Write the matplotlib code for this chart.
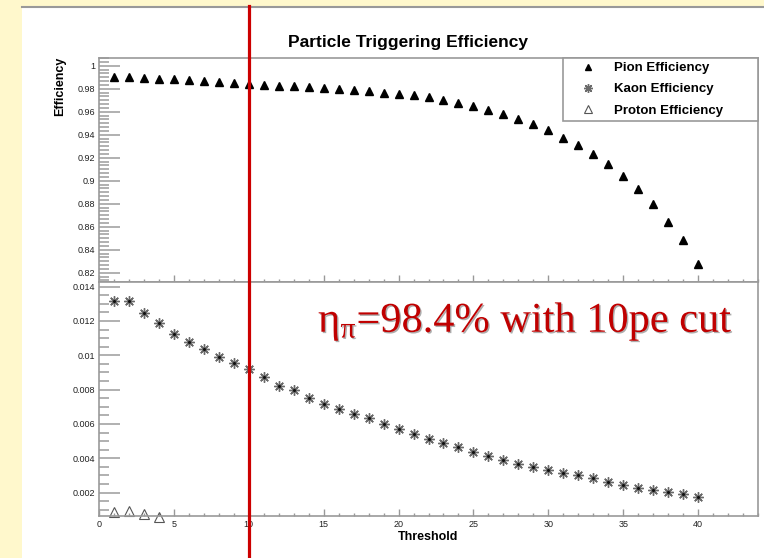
import matplotlib
matplotlib.use("Agg")
import matplotlib.pyplot as plt
import matplotlib.patheffects as pe
import matplotlib.transforms as mtransforms
from matplotlib.lines import Line2D
from matplotlib.patches import Rectangle
from matplotlib.ticker import MultipleLocator, AutoMinorLocator, FuncFormatter

plt.rcParams["font.family"] = ["Liberation Sans", "DejaVu Sans"]
plt.rcParams["mathtext.fontset"] = "custom"
plt.rcParams["mathtext.rm"] = "Liberation Serif"
plt.rcParams["mathtext.it"] = "Liberation Serif"
plt.rcParams["mathtext.default"] = "rm"

# --- data ---
threshold = list(range(1, 41))
pion_eff = [0.9905, 0.9902, 0.9893, 0.9887, 0.9881, 0.9873, 0.9864, 0.9858, 0.9847, 0.9841,
            0.9832, 0.9823, 0.9821, 0.9812, 0.9803, 0.9795, 0.9789, 0.9776, 0.9765, 0.9754,
            0.9745, 0.9725, 0.9702, 0.9678, 0.9652, 0.9615, 0.9577, 0.9539, 0.9490, 0.9441,
            0.9374, 0.9310, 0.9232, 0.9145, 0.9041, 0.8925, 0.8797, 0.8643, 0.8484, 0.8276]
kaon_eff = [0.01318, 0.01318, 0.01244, 0.01186, 0.01122, 0.01075, 0.01034, 0.00991, 0.00958, 0.00918,
            0.00873, 0.00820, 0.00797, 0.00754, 0.00719, 0.00688, 0.00661, 0.00632, 0.00599, 0.00573,
            0.00544, 0.00513, 0.00490, 0.00468, 0.00437, 0.00412, 0.00389, 0.00369, 0.00350, 0.00334,
            0.00315, 0.00303, 0.00288, 0.00262, 0.00243, 0.00229, 0.00214, 0.00204, 0.00194, 0.00174]
proton_threshold = [1, 2, 3, 4]
proton_eff = [0.00087, 0.00092, 0.00078, 0.00060]
cut_threshold = 10

W, H = 764, 558
fx = lambda px: px / W
fy = lambda py: 1 - py / H

fig = plt.figure(figsize=(W / 100, H / 100), dpi=100, facecolor="#FFF8CC")
# white slide panel + grey rule on top
fig.add_artist(Rectangle((fx(22), 0), 1 - fx(22), fy(8), transform=fig.transFigure,
                         facecolor="white", edgecolor="none", zorder=-1))
fig.add_artist(Line2D([fx(22), 1], [fy(7), fy(7)], color="#999999", lw=1.5, zorder=-1))

ax_top = fig.add_axes([fx(99), fy(282), fx(758) - fx(99), fy(58) - fy(282)])
ax_bot = fig.add_axes([fx(99), fy(516), fx(758) - fx(99), fy(282) - fy(516)], sharex=ax_top)

ax_top.plot(threshold, pion_eff, linestyle="none", marker="^", color="black",
            markersize=5.2, label="Pion Efficiency")
ax_bot.plot(threshold, kaon_eff, linestyle="none", marker=(8, 2, 0), color="#6a6a6a",
            markersize=7.5, markeredgewidth=1.0, label="Kaon Efficiency")
ax_bot.plot(threshold, kaon_eff, linestyle="none", marker="o", color="#111111",
            markersize=2.2, markeredgewidth=0)
ax_bot.plot(proton_threshold, proton_eff, linestyle="none", marker="^", markerfacecolor="none",
            markeredgecolor="#555555", markersize=6.5, markeredgewidth=0.8,
            clip_on=False, label="Proton Efficiency")

ax_top.set_xlim(0, 44)
ax_top.set_ylim(0.8119, 1.0067)
ax_bot.set_ylim(0.00064, 0.01427)

fmt = FuncFormatter(lambda v, _: f"{v:g}")
ax_top.yaxis.set_major_locator(MultipleLocator(0.02))
ax_top.yaxis.set_minor_locator(AutoMinorLocator(6))
ax_bot.yaxis.set_major_locator(MultipleLocator(0.002))
ax_bot.yaxis.set_minor_locator(AutoMinorLocator(4))
ax_bot.xaxis.set_major_locator(MultipleLocator(5))
ax_bot.xaxis.set_minor_locator(MultipleLocator(1))

for ax in (ax_top, ax_bot):
    ax.yaxis.set_major_formatter(fmt)
    ax.tick_params(axis="y", which="major", direction="in", length=15, width=1.4,
                   color="#b0b0b0", labelsize=6.5, labelcolor="#222222", pad=3)
    ax.tick_params(axis="y", which="minor", direction="in", length=7, width=1.4, color="#b0b0b0")
    ax.tick_params(axis="x", which="major", direction="in", length=5, width=1.0,
                   color="#999999", labelsize=6.5, labelcolor="#222222", pad=3)
    ax.tick_params(axis="x", which="minor", direction="in", length=2.2, width=1.0, color="#999999")
    for sp in ax.spines.values():
        sp.set_color("#999999")
        sp.set_linewidth(1.2)
ax_top.tick_params(axis="x", labelbottom=False)

# legend (pion from top pad, kaon/proton from bottom pad)
handles = ax_top.get_legend_handles_labels()[0] + ax_bot.get_legend_handles_labels()[0]
leg = ax_top.legend(handles=handles, loc="upper left", bbox_to_anchor=(0.704, 0, 0.296, 1.0),
                    mode="expand", borderaxespad=0, fancybox=False, framealpha=1,
                    edgecolor="#999999", prop={"weight": "bold", "size": 9.5},
                    handlelength=3.2, handletextpad=0.4, borderpad=0.3, labelspacing=0.68,
                    markerscale=0.85)
leg.get_frame().set_linewidth(1.2)

fig.text(fx(408), fy(43), "Particle Triggering Efficiency", ha="center", va="center",
         fontsize=12.5, weight="bold")
fig.text(fx(60), fy(57), "Efficiency", rotation=90, ha="center", va="top",
         fontsize=9, weight="bold")
fig.text(fx(428), fy(537), "Threshold", ha="center", va="center", fontsize=9, weight="bold")

# 10pe cut marker spanning the whole slide
trans = mtransforms.blended_transform_factory(ax_bot.transData, fig.transFigure)
fig.add_artist(Line2D([cut_threshold, cut_threshold], [0, fy(6)], transform=trans,
                      color="#CC0000", lw=2.3, zorder=5))

fig.text(fx(318), fy(332), r"$\eta_{\pi}$=98.4% with 10pe cut", ha="left", va="baseline",
         fontsize=30.5, color="#C00000", family="Liberation Serif", zorder=6,
         path_effects=[pe.withSimplePatchShadow(offset=(1, -1), shadow_rgbFace="#777777", alpha=0.6)])

fig.savefig("out.png", dpi=100, facecolor=fig.get_facecolor())
